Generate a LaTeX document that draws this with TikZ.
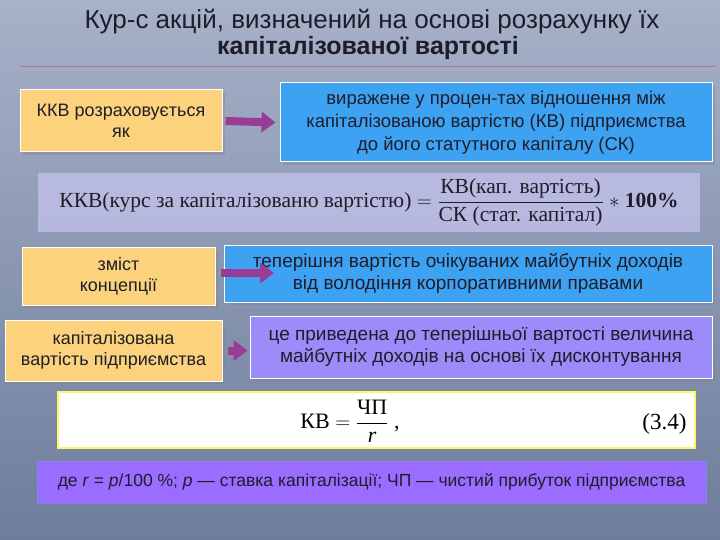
\documentclass[tikz,border=0pt]{standalone}
\usepackage{amsmath}
\usepackage{fontspec}
\setmainfont{Liberation Sans}
\newfontfamily\serifft{Liberation Serif}
\usetikzlibrary{shadows,arrows.meta}
\definecolor{orbox}{HTML}{FCD27C}
\definecolor{blbox}{HTML}{3EA2F2}
\definecolor{lvbox}{HTML}{9C8CFA}
\definecolor{pubox}{HTML}{9A6CFF}
\definecolor{arr}{HTML}{9A3C96}
\definecolor{bgtop}{HTML}{A7B1C8}
\definecolor{bgbot}{HTML}{6E7D9C}
\definecolor{txt}{HTML}{1E1E2A}
\tikzset{
  bx/.style={draw=white, line width=1pt, text=txt, align=center, font=\fontsize{18}{21}\selectfont, inner sep=2pt, drop shadow={opacity=0.35}},
  harrow/.style={arr, line width=8pt, -{Triangle[length=14pt,width=20pt]}}
}
\begin{document}
\begin{tikzpicture}[x=1pt,y=-1pt]
\useasboundingbox (0,0) rectangle (720,540);
\shade[top color=bgtop, bottom color=bgbot] (0,0) rectangle (720,540);
\node[font=\fontsize{26}{28}\selectfont, text=txt] (t1) at (372,22) {Кур-с акцій, визначений на основі розрахунку їх};
\node[font=\fontsize{25}{28}\selectfont\bfseries, text=txt] (t2) at (368,48) {капіталізованої вартості};
\draw[red!40!gray, opacity=0.5] (20,66) -- (715,66);
% row 1
\node[bx, fill=orbox, minimum width=202pt, minimum height=62pt] (a1) at (121,121) {ККВ розраховується\\ як};
\node[bx, fill=blbox, minimum width=432pt, minimum height=79pt, font=\fontsize{18.5}{23}\selectfont] (b1) at (496,122.5) {виражене у процен-тах відношення між\\ капіталізованою вартістю (КВ) підприємства\\ до його статутного капіталу (СК)};
\draw[harrow] ([xshift=3pt]a1.east) -- ([xshift=-4pt]b1.west);
% formula band
\node[fill=gray!55!blue!35!white, fill opacity=0.85, text opacity=1, minimum width=662pt, minimum height=59pt, font=\serifft\fontsize{21.5}{24}\selectfont, text=txt] (f1) at (369,202.5)
 {ККВ(курс за капіталізованю вартістю) $=\dfrac{\mbox{КВ(кап. вартість)}}{\mbox{СК (стат. капітал)}}$ $*$ \textbf{100\%}};
% row 2
\node[bx, fill=orbox, minimum width=193pt, minimum height=58pt] (a2) at (118.5,276) {зміст\\ концепції};
\node[bx, fill=blbox, minimum width=488pt, minimum height=57pt, font=\fontsize{19}{22}\selectfont] (b2) at (468,273.5) {теперішня вартість очікуваних майбутніх доходів\\ від володіння корпоративними правами};
\coordinate (e2) at (274,273);
\draw[harrow] ([xshift=5pt]a2.east |- e2) -- (e2);
% row 3
\node[bx, fill=orbox, minimum width=217pt, minimum height=61pt] (a3) at (113.5,350.5) {капіталізована\\ вартість підприємства};
\node[bx, fill=lvbox, minimum width=462pt, minimum height=62pt, font=\fontsize{19}{22}\selectfont] (b3) at (481,347) {це приведена до теперішньої вартості величина\\ майбутніх доходів на основі їх дисконтування};
\draw[harrow] ([xshift=5pt]a3.east) -- ([xshift=-2pt]b3.west |- a3.east);
% white formula box
\node[draw=yellow!60!white, line width=1.5pt, fill=white, minimum width=637pt, minimum height=56pt] (w) at (376.5,420) {};
\node[font=\serifft\fontsize{22}{24}\selectfont, text=black] (w1) at (350,421) {КВ $=\dfrac{\mbox{ЧП}}{\mbox{\itshape r}}$ ,};
\node[font=\serifft\fontsize{23}{24}\selectfont, text=black, anchor=east] (w2) at (690,424) {(3.4)};
% bottom purple
\node[draw=gray!40!blue!60, fill=pubox, minimum width=669pt, minimum height=42pt, font=\fontsize{17.5}{20}\selectfont, text=txt] (p) at (371.5,482) {де \textit{r} = \textit{p}/100 \%; \textit{p} — ставка капіталізації; ЧП — чистий прибуток підприємства};
\end{tikzpicture}
\end{document}
